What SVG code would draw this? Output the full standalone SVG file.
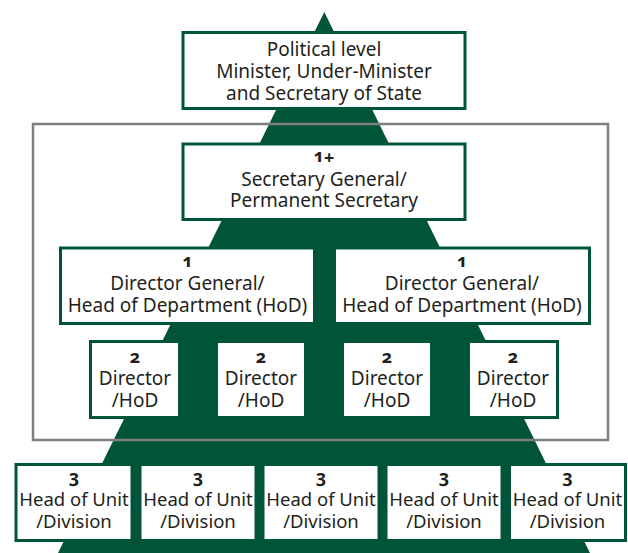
<svg xmlns="http://www.w3.org/2000/svg" width="628" height="553" viewBox="0 0 628 553">
<style>
.box{fill:#ffffff;stroke:#00543a;stroke-width:3}
.t{font-family:"Noto Sans","Open Sans","DejaVu Sans",sans-serif;font-size:19px;fill:#231f20;text-anchor:middle}
.s{font-size:18.5px}
.n{font-family:"Noto Sans","Open Sans","DejaVu Sans",sans-serif;font-size:18px;font-weight:bold;fill:#231f20;text-anchor:middle;font-variant-numeric:oldstyle-nums;font-feature-settings:"onum" 1}
</style>
<rect width="628" height="553" fill="#ffffff"/>
<polygon id="pyramid" points="324.3,12 58,553 590,553" fill="#00543a"/>
<rect id="frame" x="33" y="124" width="575" height="316" fill="none" stroke="#7f7f7f" stroke-width="2.5"/>
<g id="connectors"></g>
<g id="political">
<rect class="box" x="183" y="32.5" width="282" height="76"/>
<text class="t" x="324" y="56">Political level</text>
<text class="t" x="324" y="78">Minister, Under-Minister</text>
<text class="t" x="324" y="100">and Secretary of State</text>
</g>
<g id="secgen">
<rect class="box" x="183" y="144" width="282" height="75.5"/>
<text class="n" x="324" y="162" font-size="16">1<tspan dy="1.5">+</tspan></text>
<text class="t" x="324" y="186">Secretary General/</text>
<text class="t" x="324" y="207">Permanent Secretary</text>
</g>
<g id="dg1">
<rect class="box" x="60.5" y="248" width="254" height="75.5"/>
<text class="n" x="187.5" y="267">1</text>
<text class="t" x="187.5" y="290">Director General/</text>
<text class="t" x="187.5" y="312">Head of Department (HoD)</text>
</g>
<g id="dg2">
<rect class="box" x="334.5" y="248" width="255" height="75.5"/>
<text class="n" x="462" y="267">1</text>
<text class="t" x="462" y="290">Director General/</text>
<text class="t" x="462" y="312">Head of Department (HoD)</text>
</g>
<g id="dir1">
<rect class="box" x="90.5" y="341.5" width="89" height="76"/>
<text class="n" x="135" y="363">2</text>
<text class="t" x="135" y="385">Director</text>
<text class="t" x="135" y="407">/HoD</text>
</g>
<g id="dir2">
<rect class="box" x="216.5" y="341.5" width="89" height="76"/>
<text class="n" x="261" y="363">2</text>
<text class="t" x="261" y="385">Director</text>
<text class="t" x="261" y="407">/HoD</text>
</g>
<g id="dir3">
<rect class="box" x="342.5" y="341.5" width="89" height="76"/>
<text class="n" x="387" y="363">2</text>
<text class="t" x="387" y="385">Director</text>
<text class="t" x="387" y="407">/HoD</text>
</g>
<g id="dir4">
<rect class="box" x="468.5" y="341.5" width="89" height="76"/>
<text class="n" x="513" y="363">2</text>
<text class="t" x="513" y="385">Director</text>
<text class="t" x="513" y="407">/HoD</text>
</g>
<g id="hou1">
<rect class="box" x="16" y="464.5" width="116" height="76"/>
<text class="n" x="74" y="483">3</text>
<text class="t s" x="74" y="506">Head of Unit</text>
<text class="t s" x="74" y="528">/Division</text>
</g>
<g id="hou2">
<rect class="box" x="140" y="464.5" width="116" height="76"/>
<text class="n" x="198" y="483">3</text>
<text class="t s" x="198" y="506">Head of Unit</text>
<text class="t s" x="198" y="528">/Division</text>
</g>
<g id="hou3">
<rect class="box" x="263" y="464.5" width="116" height="76"/>
<text class="n" x="321" y="483">3</text>
<text class="t s" x="321" y="506">Head of Unit</text>
<text class="t s" x="321" y="528">/Division</text>
</g>
<g id="hou4">
<rect class="box" x="386" y="464.5" width="116" height="76"/>
<text class="n" x="444" y="483">3</text>
<text class="t s" x="444" y="506">Head of Unit</text>
<text class="t s" x="444" y="528">/Division</text>
</g>
<g id="hou5">
<rect class="box" x="509.5" y="464.5" width="116" height="76"/>
<text class="n" x="567.5" y="483">3</text>
<text class="t s" x="567.5" y="506">Head of Unit</text>
<text class="t s" x="567.5" y="528">/Division</text>
</g>
</svg>
